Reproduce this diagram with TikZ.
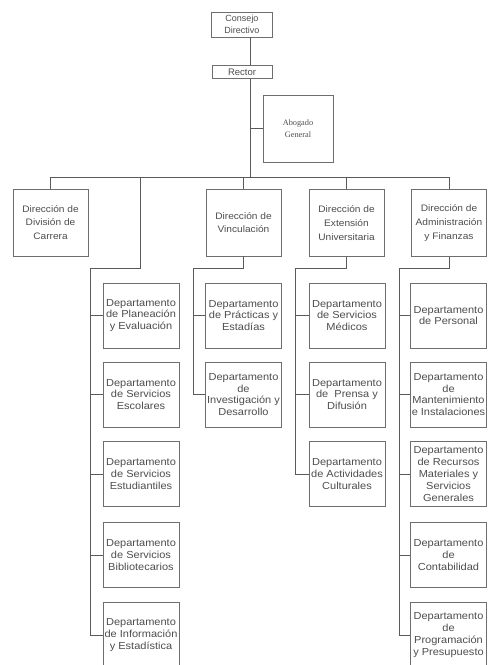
\documentclass[tikz,border=0pt]{standalone}
\usepackage{fontspec}
\setmainfont{Liberation Sans}
\newfontfamily\arialx[FakeStretch=1.08]{Liberation Sans}
\newfontfamily\timesx{Liberation Serif}
\definecolor{boxc}{HTML}{6E6E6E}
\definecolor{txtc}{HTML}{4E4E4E}
\definecolor{linec}{HTML}{5A5A5A}
\begin{document}
\begin{tikzpicture}[x=1pt,y=-1pt,
  box/.style={draw=boxc, line width=0.8pt, fill=white, align=center, inner sep=0pt, text=txtc},
  ln/.style={draw=linec, line width=0.8pt},
  dept/.style={box, minimum width=76pt, minimum height=65pt, font=\arialx\fontsize{10.2}{11.8}\selectfont},
  dirbox/.style={box, minimum width=75pt, minimum height=67pt, font=\arialx\fontsize{9.4}{13.8}\selectfont},
]
\useasboundingbox (0,0) rectangle (488,665);
\fill[white] (0,0) rectangle (488,665);
\clip (0,0) rectangle (488,665);

% top
\node[box, minimum width=61pt, minimum height=25pt, font=\fontsize{9}{12.5}\selectfont] (consejo) at (242,24.5) {Consejo\\Directivo};
\node[box, minimum width=60pt, minimum height=12.5pt, font=\fontsize{9.5}{11}\selectfont] (rector) at (242,72) {Rector};
\node[box, minimum width=70pt, minimum height=67pt, font=\timesx\fontsize{8.3}{12}\selectfont] (abogado) at (298,128.5) {Abogado\\General};

\coordinate (bar) at (250,177);
\coordinate (barL) at (50.5,177);
\coordinate (barR) at (449,177);
\coordinate (jA) at (140,177);
\draw[ln] (consejo.south -| bar) -- (rector.north -| bar);
\draw[ln] (rector.south -| bar) -- (bar);
\draw[ln] (abogado.west) -- (abogado.west -| bar);
\draw[ln] (barL) -- (barR);

% directions
\node[dirbox] (dcar) at (50.5,222.5) {Dirección de\\División de\\Carrera};
\node[dirbox] (dvin) at (243.5,222.5) {Dirección de\\Vinculación};
\node[dirbox] (dext) at (346.5,223) {Dirección de\\Extensión\\Universitaria};
\node[dirbox] (dadm) at (449,223) {Dirección de\\Administración\\y Finanzas};

\draw[ln] (dcar.north) -- (dcar.north |- bar);
\draw[ln] (dvin.north) -- (dvin.north |- bar);
\draw[ln] (dext.north) -- (dext.north |- bar);
\draw[ln] (dadm.north) -- (dadm.north |- bar);

\coordinate (colA) at (90,268);
\coordinate (colB) at (193,268);
\coordinate (colC) at (295,268);
\coordinate (colD) at (399,268);
\draw[ln] (jA) |- (colA);
\draw[ln] (dvin.south) |- (colB);
\draw[ln] (dext.south) |- (colC);
\draw[ln] (dadm.south) |- (colD);

% column A
\node[dept] (a1) at (141,315.5) {Departamento\\de Planeación\\y Evaluación};
\node[dept] (a2) at (141,394.5) {Departamento\\de Servicios\\Escolares};
\node[dept] (a3) at (141,474) {Departamento\\de Servicios\\Estudiantiles};
\node[dept] (a4) at (141,555) {Departamento\\de Servicios\\Bibliotecarios};
\node[dept] (a5) at (141,635) {Departamento\\de Información\\y Estadística};
% column B
\node[dept] (b1) at (243.5,315.5) {Departamento\\de Prácticas y\\Estadías};
\node[dept] (b2) at (243.5,394.5) {Departamento\\de\\Investigación y\\Desarrollo};
% column C
\node[dept] (c1) at (347,315.5) {Departamento\\de Servicios\\Médicos};
\node[dept] (c2) at (347,394.5) {Departamento\\de \ Prensa y\\Difusión};
\node[dept] (c3) at (347,474) {Departamento\\de Actividades\\Culturales};
% column D
\node[dept] (d1) at (448.5,315.5) {Departamento\\de Personal};
\node[dept] (d2) at (448.5,394.5) {Departamento\\de\\Mantenimiento\\e Instalaciones};
\node[dept] (d3) at (448.5,474) {Departamento\\de Recursos\\Materiales y\\Servicios\\Generales};
\node[dept] (d4) at (448.5,555) {Departamento\\de\\Contabilidad};
\node[dept] (d5) at (448.5,635) {Departamento\\de\\Programación\\y Presupuesto};

\draw[ln] (colA) -- (colA |- a5.west);
\draw[ln] (colB) -- (colB |- b2.west);
\draw[ln] (colC) -- (colC |- c3.west);
\draw[ln] (colD) -- (colD |- d5.west);
\foreach \n in {a1,a2,a3,a4,a5} \draw[ln] (\n.west) -- (\n.west -| colA);
\foreach \n in {b1,b2} \draw[ln] (\n.west) -- (\n.west -| colB);
\foreach \n in {c1,c2,c3} \draw[ln] (\n.west) -- (\n.west -| colC);
\foreach \n in {d1,d2,d3,d4,d5} \draw[ln] (\n.west) -- (\n.west -| colD);
\end{tikzpicture}
\end{document}
